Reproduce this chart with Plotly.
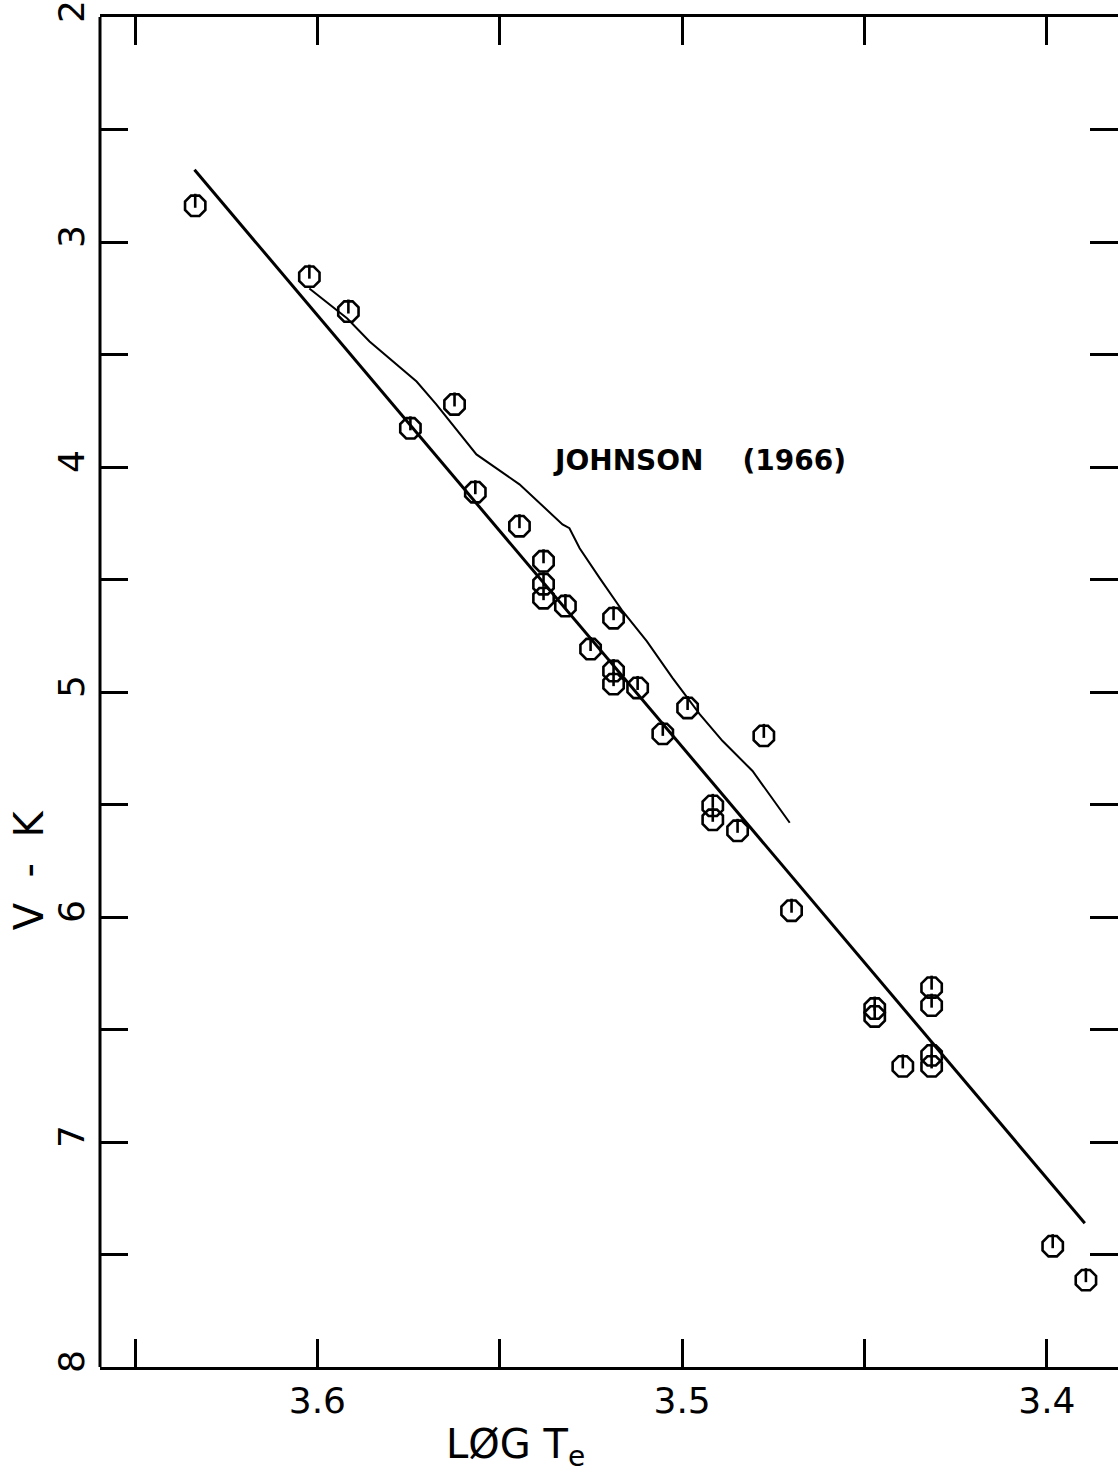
import plotly.graph_objects as go

# Observed stars: log effective temperature vs. V-K colour
log_te = [3.6335, 3.6022, 3.5915, 3.5745, 3.5624, 3.5567, 3.5446, 3.5380,
          3.5380, 3.5380, 3.5320, 3.5188, 3.5251, 3.5188, 3.5188, 3.5122,
          3.4985, 3.5053, 3.4776, 3.4916, 3.4916, 3.4848, 3.4700, 3.4472,
          3.4472, 3.4316, 3.4316, 3.4316, 3.4316, 3.4395, 3.3984, 3.3893]
v_minus_k = [2.839, 3.154, 3.309, 3.828, 3.722, 4.112, 4.263, 4.419,
             4.521, 4.583, 4.618, 4.672, 4.809, 4.907, 4.965, 4.982,
             5.071, 5.186, 5.195, 5.506, 5.568, 5.617, 5.972, 6.407,
             6.442, 6.314, 6.394, 6.615, 6.664, 6.664, 7.463, 7.614]

# Linear fit through the data
fit_log_te = [3.6337, 3.3896]
fit_v_minus_k = [2.679, 7.361]

# Johnson (1966) calibration
johnson_log_te = [3.6022, 3.5918, 3.5857, 3.5767, 3.5728, 3.5674, 3.5610,
                  3.5564, 3.5446, 3.5328, 3.5309, 3.5281, 3.5226, 3.5163,
                  3.5097, 3.5026, 3.4952, 3.4889, 3.4807, 3.4705]
johnson_v_minus_k = [3.207, 3.340, 3.442, 3.567, 3.620, 3.722, 3.851,
                     3.944, 4.077, 4.255, 4.272, 4.361, 4.494, 4.641,
                     4.774, 4.938, 5.098, 5.218, 5.351, 5.581]

x_tick_vals = [3.65, 3.60, 3.55, 3.50, 3.45, 3.40]
x_tick_text = ["", "3.6", "", "3.5", "", "3.4"]
y_tick_vals = [2, 2.5, 3, 3.5, 4, 4.5, 5, 5.5, 6, 6.5, 7, 7.5, 8]
y_tick_text = ["2", "", "3", "", "4", "", "5", "", "6", "", "7", "", "8"]

X_RANGE = [3.6596, 3.3805]
Y_RANGE = [8, 2]
PLOT_H_PX = 1352.0
MARKER = 22
STEM = 10
# the short stem marker sits between the top of each circle and its centre
stem_shift = (STEM / 2) * (Y_RANGE[0] - Y_RANGE[1]) / PLOT_H_PX

FONT = "DejaVu Sans"

fig = go.Figure()

fig.add_trace(go.Scatter(
    x=fit_log_te, y=fit_v_minus_k, mode="lines",
    line=dict(color="black", width=3), hoverinfo="skip"))

fig.add_trace(go.Scatter(
    x=johnson_log_te, y=johnson_v_minus_k, mode="lines",
    line=dict(color="black", width=2), hoverinfo="skip"))

fig.add_trace(go.Scatter(
    x=log_te, y=v_minus_k, mode="markers",
    marker=dict(symbol="octagon-open", size=MARKER,
                color="black", line=dict(color="black", width=2.6))))

fig.add_trace(go.Scatter(
    x=log_te, y=[v - stem_shift for v in v_minus_k], mode="markers",
    marker=dict(symbol="line-ns-open", size=STEM,
                color="black", line=dict(color="black", width=2.6)),
    hoverinfo="skip"))

fig.update_layout(
    width=1118, height=1472,
    margin=dict(l=100, r=0, t=15, b=105),
    paper_bgcolor="white", plot_bgcolor="white",
    showlegend=False,
    font=dict(family=FONT, color="black"),
    xaxis=dict(
        range=X_RANGE, tickvals=x_tick_vals, ticktext=x_tick_text,
        ticks="inside", ticklen=28, tickwidth=3, tickcolor="black",
        showline=True, linewidth=3, linecolor="black", mirror="ticks",
        showgrid=False, zeroline=False, ticklabeloverflow="allow",
        tickfont=dict(family=FONT, size=36, color="black"),
    ),
    yaxis=dict(
        range=Y_RANGE, tickvals=y_tick_vals, ticktext=y_tick_text,
        ticks="inside", ticklen=28, tickwidth=3, tickcolor="black",
        showline=False, mirror="ticks",
        showgrid=False, zeroline=False, tickangle=-90,
        ticklabeloverflow="allow", ticklabelstandoff=8,
        tickfont=dict(family=FONT, size=36, color="black"),
    ),
    shapes=[dict(type="line", xref="paper", yref="paper",
                 x0=0, x1=0, y0=0, y1=1,
                 line=dict(color="black", width=3))],
    annotations=[
        dict(text="JOHNSON\u00a0\u00a0\u00a0\u00a0(1966)", x=3.4952, y=3.970,
             xref="x", yref="y", showarrow=False,
             font=dict(family=FONT, size=28, color="black", weight="bold")),
        dict(text="L\u00d8G T<sub>e</sub>", x=0.4077, y=-0.059,
             xref="paper", yref="paper", showarrow=False,
             xanchor="center", yanchor="middle",
             font=dict(family=FONT, size=40, color="black")),
        dict(text="V\u00a0\u00a0-\u00a0\u00a0K", x=-0.0697, y=0.368,
             xref="paper", yref="paper", showarrow=False, textangle=-90,
             xanchor="center", yanchor="middle",
             font=dict(family=FONT, size=40, color="black")),
    ],
)

fig.write_html("out.html")
